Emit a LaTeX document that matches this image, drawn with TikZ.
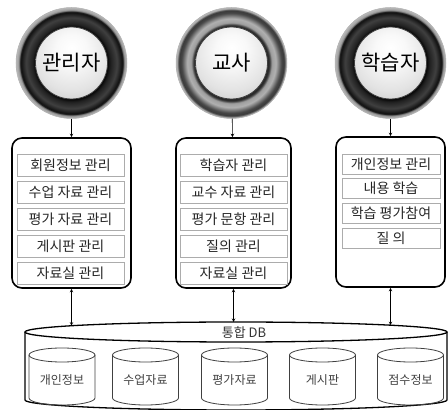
\documentclass[tikz,border=0pt]{standalone}
\usepackage{fontspec}
\setmainfont{Noto Sans CJK KR}
\usetikzlibrary{shapes,arrows,positioning}

% shadings for the three user buttons (path radius = 25bp)
\pgfdeclareradialshading{darkring}{\pgfpointorigin}{color(0bp)=(black); color(16bp)=(black); color(17.5bp)=(gray!25!black); color(20.5bp)=(gray!50!black); color(23bp)=(black!95); color(23.8bp)=(gray!80); color(25bp)=(gray!55); color(50bp)=(gray!55)}
\pgfdeclareradialshading{grayring}{\pgfpointorigin}{color(0bp)=(gray); color(16bp)=(gray!30!black); color(17bp)=(gray!35!black); color(18.2bp)=(gray!75); color(20bp)=(gray!62); color(22.5bp)=(gray!55!black); color(23.8bp)=(gray!45!black); color(24.4bp)=(gray!75); color(25bp)=(gray!55); color(50bp)=(gray!55)}
\pgfdeclareradialshading{glass}{\pgfpoint{0bp}{7bp}}{color(0bp)=(white); color(7bp)=(gray!5); color(17bp)=(gray!22); color(25bp)=(gray!45); color(50bp)=(gray!45)}

\begin{document}
\begin{tikzpicture}[
    x=1pt, y=1pt,
    node distance=4.4pt,
    actor/.style={circle, minimum size=111pt, inner sep=0pt, draw=gray!60, line width=0.5pt, font=\fontsize{21}{21}\selectfont,
        path picture={\shade[shading=glass, draw=black!75, line width=0.8pt] (path picture bounding box.center) circle (36pt);}},
    darkactor/.style={actor, shading=darkring},
    grayactor/.style={actor, shading=grayring},
    role/.style={rectangle, rounded corners=10pt, draw, line width=1.6pt, minimum height=150pt},
    task/.style={rectangle, draw=gray!65, line width=0.7pt, minimum width=107pt, minimum height=22pt, inner sep=0pt, text=black!85, font=\fontsize{14}{14}\selectfont},
    drum/.style={draw=black!75, line width=0.8pt},
    drumlabel/.style={text=black!75, font=\fontsize{12}{12}\selectfont},
    arrow/.style={->,>=stealth, line width=0.6pt},
    link/.style={<->,>=stealth, line width=0.6pt}
]
\useasboundingbox (0,0) rectangle (448,410);

% USUARIOS
\node[darkactor] (admin) at (71.5,347) {관리자};
\node[grayactor] (teacher) at (231.5,347) {교사};
\node[darkactor] (learner) at (390.5,347) {학습자};

% CAJAS DE FUNCIONES
\node[role, minimum width=119pt] (adminbox) at (71.5,197) {};
\node[role, minimum width=115pt] (teacherbox) at (233.5,197) {};
\node[role, minimum width=109pt] (learnerbox) at (390.5,198) {};

\node[task] (a1) at (70.5,245) {회원정보 관리};
\node[task, below=of a1] (a2) {수업 자료 관리};
\node[task, below=of a2] (a3) {평가 자료 관리};
\node[task, below=of a3] (a4) {게시판 관리};
\node[task, below=of a4] (a5) {자료실 관리};

\node[task] (t1) at (233.5,245) {학습자 관리};
\node[task, below=of t1] (t2) {교수 자료 관리};
\node[task, below=of t2] (t3) {평가 문항 관리};
\node[task, below=of t3] (t4) {질의 관리};
\node[task, below=of t4] (t5) {자료실 관리};

\node[task, minimum width=98pt, minimum height=20pt] (l1) at (391,246) {개인정보 관리};
\node[task, minimum width=98pt, minimum height=20pt, below=4pt of l1] (l2) {내용 학습};
\node[task, minimum width=98pt, minimum height=20pt, below=4pt of l2] (l3) {학습 평가참여};
\node[task, minimum width=98pt, minimum height=20pt, below=4pt of l3] (l4) {질 의};

% BASE DE DATOS
\draw[line width=1.3pt] (25,78) -- (25,10) arc[start angle=180, end angle=360, x radius=211pt, y radius=10pt] -- (447,78);
\draw[line width=1.3pt] (236,78) ellipse [x radius=211pt, y radius=10pt];
\node[font=\fontsize{13}{13}\selectfont, text=black!80] (db) at (244,77) {통합 DB};
\coordinate (dbL) at (71.5,84.3);
\coordinate (dbM) at (233.5,88);
\coordinate (dbR) at (390.5,84.8);

\foreach \x/\name/\txt in {62/d1/개인정보, 145.5/d2/수업자료, 234.5/d3/평가자료, 322.5/d4/게시판, 410.5/d5/점수정보} {
  \draw[drum] (\x-33,55) -- (\x-33,12) arc[start angle=180, end angle=360, x radius=33pt, y radius=7pt] -- (\x+33,55);
  \draw[drum] (\x,55) ellipse [x radius=33pt, y radius=7pt];
  \node[drumlabel] (\name) at (\x,30) {\txt};
}

% CONEXIONES
\draw[arrow] (admin) -- (adminbox);
\draw[arrow] (teacher) -- (teacherbox);
\draw[arrow] (learner) -- (learnerbox);
\draw[link] (adminbox.south) -- (dbL);
\draw[link] (teacherbox.south) -- (dbM);
\draw[link] (learnerbox.south) -- (dbR);

\end{tikzpicture}
\end{document}
